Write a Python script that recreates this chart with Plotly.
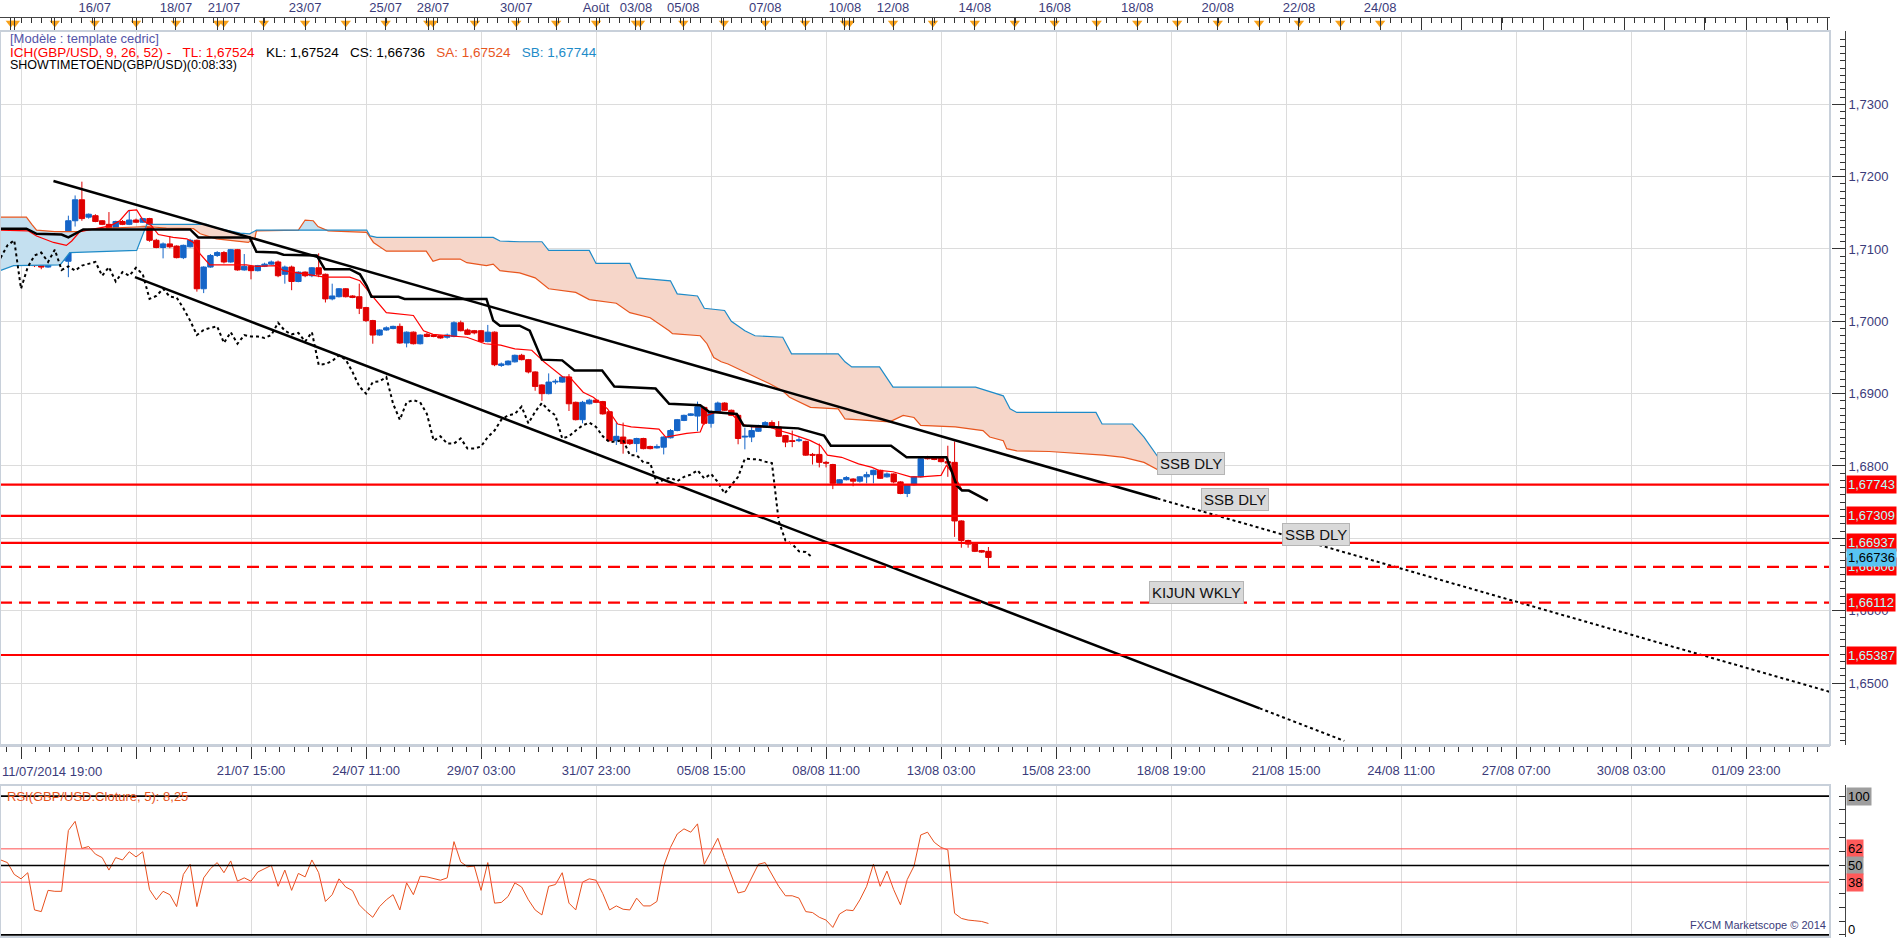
import numpy as np
import plotly.graph_objects as go

FONT = "Liberation Sans"
NAVY = "#3B3B7A"
BLUE_C = "#1565C8"
RED_C = "#E00000"
GRID = "#DCDCDC"

# 4h bars, bar 0 sits on the first vertical gridline
FIRST_BAR = -3

OPEN = [1.7114, 1.7128, 1.7125, 1.7121, 1.7117, 1.7118, 1.7077, 1.7075, 1.7086, 1.7084,
        1.7083, 1.7139, 1.7168, 1.7144, 1.7146, 1.7139, 1.7134, 1.7124, 1.7138, 1.7134,
        1.7140, 1.7137, 1.7142, 1.7112, 1.7102, 1.7107, 1.7104, 1.7088, 1.7103, 1.7112,
        1.7045, 1.7075, 1.7091, 1.7095, 1.7082, 1.7099, 1.7071, 1.7076, 1.7070, 1.7076,
        1.7079, 1.7082, 1.7065, 1.7075, 1.7055, 1.7068, 1.7063, 1.7074, 1.7065, 1.7031,
        1.7034, 1.7045, 1.7035, 1.7034, 1.7019, 1.7001, 1.6981, 1.6988, 1.6990, 1.6993,
        1.6970, 1.6985, 1.6969, 1.6982, 1.6981, 1.6980, 1.6978, 1.6979, 1.6998, 1.6988,
        1.6987, 1.6987, 1.6972, 1.6985, 1.6939, 1.6940, 1.6944, 1.6953, 1.6947, 1.6930,
        1.6912, 1.6900, 1.6916, 1.6916, 1.6923, 1.6888, 1.6864, 1.6886, 1.6891, 1.6889,
        1.6875, 1.6835, 1.6840, 1.6836, 1.6831, 1.6838, 1.6827, 1.6825, 1.6826, 1.6839,
        1.6849, 1.6863, 1.6870, 1.6869, 1.6881, 1.6859, 1.6875, 1.6887, 1.6877, 1.6870,
        1.6840, 1.6840, 1.6848, 1.6856, 1.6860, 1.6854, 1.6842, 1.6835, 1.6835, 1.6834,
        1.6816, 1.6816, 1.6805, 1.6802, 1.6776, 1.6781, 1.6782, 1.6779, 1.6785, 1.6788,
        1.6794, 1.6785, 1.6789, 1.6778, 1.6762, 1.6774, 1.6785, 1.6813, 1.6812, 1.6811,
        1.6806, 1.6805, 1.6724, 1.6697, 1.6692, 1.6683, 1.6682]
HIGH = [1.7130, 1.7129, 1.7128, 1.7123, 1.7123, 1.7128, 1.7087, 1.7087, 1.7087, 1.7087,
        1.7146, 1.7174, 1.7193, 1.7149, 1.7148, 1.7140, 1.7151, 1.7139, 1.7140, 1.7154,
        1.7142, 1.7143, 1.7143, 1.7114, 1.7109, 1.7118, 1.7105, 1.7106, 1.7114, 1.7113,
        1.7076, 1.7093, 1.7097, 1.7097, 1.7100, 1.7100, 1.7093, 1.7077, 1.7078, 1.7081,
        1.7084, 1.7084, 1.7077, 1.7077, 1.7069, 1.7069, 1.7075, 1.7094, 1.7066, 1.7052,
        1.7046, 1.7046, 1.7036, 1.7052, 1.7020, 1.7002, 1.6989, 1.6993, 1.6994, 1.6997,
        1.6986, 1.6986, 1.6982, 1.6984, 1.6982, 1.6981, 1.6983, 1.7000, 1.7001, 1.6990,
        1.6988, 1.6988, 1.6995, 1.6986, 1.6943, 1.6946, 1.6954, 1.6955, 1.6948, 1.6931,
        1.6913, 1.6928, 1.6920, 1.6924, 1.6927, 1.6889, 1.6890, 1.6893, 1.6892, 1.6890,
        1.6876, 1.6860, 1.6860, 1.6837, 1.6839, 1.6839, 1.6828, 1.6830, 1.6841, 1.6851,
        1.6865, 1.6871, 1.6873, 1.6889, 1.6882, 1.6877, 1.6889, 1.6888, 1.6878, 1.6871,
        1.6853, 1.6856, 1.6857, 1.6862, 1.6863, 1.6862, 1.6843, 1.6849, 1.6840, 1.6835,
        1.6818, 1.6831, 1.6807, 1.6803, 1.6782, 1.6786, 1.6783, 1.6786, 1.6792, 1.6795,
        1.6795, 1.6791, 1.6790, 1.6779, 1.6775, 1.6786, 1.6811, 1.6814, 1.6813, 1.6812,
        1.6828, 1.6834, 1.6725, 1.6698, 1.6693, 1.6684, 1.6688]
LOW = [1.7112, 1.7116, 1.7116, 1.7114, 1.7115, 1.7075, 1.7072, 1.7074, 1.7082, 1.7082,
       1.7061, 1.7131, 1.7139, 1.7142, 1.7137, 1.7133, 1.7116, 1.7123, 1.7133, 1.7133,
       1.7136, 1.7136, 1.7110, 1.7101, 1.7087, 1.7101, 1.7087, 1.7086, 1.7102, 1.7041,
       1.7039, 1.7074, 1.7089, 1.7080, 1.7081, 1.7070, 1.7070, 1.7058, 1.7069, 1.7075,
       1.7078, 1.7061, 1.7052, 1.7043, 1.7054, 1.7061, 1.7061, 1.7061, 1.7026, 1.7029,
       1.7033, 1.7033, 1.7032, 1.7010, 1.6999, 1.6969, 1.6980, 1.6987, 1.6989, 1.6969,
       1.6964, 1.6968, 1.6968, 1.6978, 1.6978, 1.6976, 1.6976, 1.6978, 1.6986, 1.6981,
       1.6982, 1.6971, 1.6971, 1.6938, 1.6937, 1.6939, 1.6943, 1.6946, 1.6928, 1.6904,
       1.6890, 1.6899, 1.6913, 1.6915, 1.6876, 1.6863, 1.6859, 1.6885, 1.6887, 1.6871,
       1.6834, 1.6829, 1.6817, 1.6829, 1.6819, 1.6823, 1.6823, 1.6824, 1.6816, 1.6838,
       1.6848, 1.6862, 1.6869, 1.6848, 1.6857, 1.6853, 1.6874, 1.6876, 1.6869, 1.6830,
       1.6823, 1.6833, 1.6847, 1.6855, 1.6852, 1.6840, 1.6826, 1.6826, 1.6833, 1.6814,
       1.6802, 1.6798, 1.6798, 1.6768, 1.6775, 1.6780, 1.6772, 1.6777, 1.6776, 1.6776,
       1.6782, 1.6784, 1.6776, 1.6761, 1.6757, 1.6773, 1.6784, 1.6809, 1.6808, 1.6805,
       1.6785, 1.6702, 1.6687, 1.6687, 1.6681, 1.6680, 1.6659]
CLOSE = [1.7128, 1.7123, 1.7121, 1.7116, 1.7120, 1.7077, 1.7075, 1.7086, 1.7084, 1.7085,
         1.7139, 1.7168, 1.7142, 1.7148, 1.7138, 1.7134, 1.7124, 1.7138, 1.7134, 1.7140,
         1.7137, 1.7142, 1.7112, 1.7102, 1.7107, 1.7103, 1.7088, 1.7105, 1.7112, 1.7045,
         1.7075, 1.7091, 1.7095, 1.7082, 1.7099, 1.7071, 1.7076, 1.7070, 1.7077, 1.7079,
         1.7082, 1.7063, 1.7075, 1.7055, 1.7068, 1.7063, 1.7074, 1.7065, 1.7031, 1.7035,
         1.7045, 1.7034, 1.7033, 1.7018, 1.7001, 1.6981, 1.6988, 1.6991, 1.6993, 1.6970,
         1.6985, 1.6969, 1.6981, 1.6979, 1.6979, 1.6977, 1.6981, 1.6998, 1.6987, 1.6982,
         1.6984, 1.6972, 1.6985, 1.6940, 1.6941, 1.6945, 1.6953, 1.6947, 1.6930, 1.6910,
         1.6900, 1.6916, 1.6917, 1.6923, 1.6886, 1.6864, 1.6888, 1.6891, 1.6888, 1.6872,
         1.6835, 1.6841, 1.6831, 1.6831, 1.6838, 1.6824, 1.6824, 1.6827, 1.6840, 1.6849,
         1.6864, 1.6870, 1.6872, 1.6882, 1.6859, 1.6875, 1.6887, 1.6877, 1.6870, 1.6838,
         1.6841, 1.6849, 1.6856, 1.6860, 1.6854, 1.6841, 1.6833, 1.6834, 1.6836, 1.6815,
         1.6815, 1.6805, 1.6804, 1.6776, 1.6781, 1.6784, 1.6779, 1.6785, 1.6788, 1.6794,
         1.6783, 1.6789, 1.6778, 1.6762, 1.6774, 1.6785, 1.6810, 1.6810, 1.6809, 1.6806,
         1.6804, 1.6724, 1.6697, 1.6692, 1.6682, 1.6681, 1.66736]

RSI = [54.0, 52.1, 43.6, 40.4, 44.8, 18.0, 16.8, 32.1, 31.4, 31.4,
       75.2, 81.8, 62.3, 63.7, 58.2, 55.7, 46.7, 55.7, 54.0, 59.9,
       56.2, 59.9, 32.6, 25.3, 31.4, 29.0, 20.4, 43.6, 50.9, 20.4,
       41.1, 47.7, 52.1, 44.8, 53.3, 38.7, 41.1, 38.7, 45.3, 47.7,
       50.1, 35.0, 46.7, 32.1, 44.3, 41.8, 54.0, 44.8, 24.1, 29.0,
       40.4, 34.5, 31.9, 21.7, 16.8, 12.7, 20.4, 25.3, 29.0, 18.0,
       37.5, 29.0, 42.3, 41.8, 40.4, 39.4, 41.1, 67.2, 52.6, 49.1,
       49.6, 32.1, 52.1, 22.9, 23.4, 27.7, 37.5, 34.5, 25.3, 18.0,
       14.4, 35.0, 36.3, 44.8, 22.9, 18.0, 38.0, 40.4, 39.4, 29.7,
       18.0, 20.9, 18.5, 18.0, 26.5, 20.9, 20.9, 24.1, 49.6, 63.0,
       72.7, 76.4, 74.0, 80.0, 50.9, 60.6, 69.6, 55.7, 42.3, 30.2,
       31.4, 41.1, 50.9, 52.1, 43.6, 35.0, 28.2, 28.2, 26.5, 16.8,
       16.1, 12.7, 10.7, 5.4, 15.1, 18.0, 17.5, 25.3, 35.0, 50.9,
       35.0, 46.0, 32.6, 21.7, 39.9, 49.6, 72.0, 74.0, 66.7, 63.0,
       61.3, 15.6, 11.9, 10.7, 10.2, 9.7, 8.25]

# Ichimoku lines, vertices (bar index, price)
TENKAN_X = [-3.1, 1.1, 2.3, 4.8, 6.7, 7.5, 8.7, 10.2, 13.2, 14.6, 15.9, 17.1, 18.1, 19.3, 20.3,
            22.5, 24.5, 25.5, 26.5, 27.9, 33.3, 34.8, 37.8, 38.8, 40.2, 43.7, 44.9, 48.6, 50.1,
            52.1, 54.0, 58.0, 59.5, 60.9, 65.9, 68.6, 70.9, 73.0, 75.5, 77.3, 80.1, 81.1, 83.1,
            84.6, 86.7, 88.2, 90.2, 94.3, 95.3, 98.4, 100.4, 101.4, 102.9, 105.0, 106.5, 108.0,
            110.6, 112.1, 113.6, 116.7, 118.2, 119.2, 121.3, 123.8, 125.8, 126.8, 128.9, 131.5,
            133.0, 136.0, 136.8, 137.8, 139.1, 140.1, 142.9]
TENKAN_Y = [1.7126, 1.7125, 1.7118, 1.7109, 1.7105, 1.7111, 1.7124, 1.7127, 1.7132, 1.7139,
            1.7153, 1.7154, 1.7139, 1.7132, 1.7120, 1.7116, 1.7114, 1.7109, 1.7093, 1.7078,
            1.7078, 1.7076, 1.7077, 1.7070, 1.7068, 1.7063, 1.7061, 1.7061, 1.7056, 1.7033,
            1.7012, 1.7008, 1.6987, 1.6982, 1.6978, 1.6969, 1.6967, 1.6962, 1.6960, 1.6944,
            1.6923, 1.6923, 1.6902, 1.6895, 1.6879, 1.6858, 1.6854, 1.6851, 1.6840, 1.6845,
            1.6847, 1.6870, 1.6875, 1.6872, 1.6858, 1.6854, 1.6854, 1.6849, 1.6845, 1.6835,
            1.6828, 1.6815, 1.6812, 1.6803, 1.6798, 1.6794, 1.6792, 1.6785, 1.6785, 1.6787,
            1.6801, 1.6789, 1.6767, 1.6766, 1.6752]

KIJUN_X = [-3.1, 0.8, 2.3, 6.0, 7.0, 9.0, 9.2, 25.0, 26.2, 33.8, 34.8, 37.8, 38.8, 43.7, 44.9,
           48.6, 50.1, 51.1, 51.8, 55.8, 56.7, 68.8, 69.8, 70.8, 73.7, 75.2, 77.0, 80.0, 81.8,
           85.9, 87.7, 93.8, 95.8, 100.4, 101.7, 105.8, 106.8, 114.9, 118.7, 119.7, 128.6,
           130.9, 136.8, 137.6, 138.3, 139.1, 140.1, 142.9]
KIJUN_Y = [1.7128, 1.7128, 1.7121, 1.7120, 1.7116, 1.7125, 1.7127, 1.7127, 1.7116, 1.7116,
           1.7096, 1.7095, 1.7092, 1.7091, 1.7072, 1.7072, 1.7065, 1.7049, 1.7034, 1.7034,
           1.7031, 1.7031, 1.7001, 1.6994, 1.6994, 1.6987, 1.6947, 1.6946, 1.6932, 1.6932,
           1.6910, 1.6907, 1.6886, 1.6884, 1.6875, 1.6872, 1.6856, 1.6852, 1.6842, 1.6828,
           1.6828, 1.6812, 1.6812, 1.6792, 1.6773, 1.6766, 1.6766, 1.6752]

SSA_X = [-3.1, 0.8, 1.6, 2.3, 5.0, 8.7, 10.0, 13.2, 18.6, 21.5, 25.5, 26.5, 28.9, 31.4, 33.6,
         34.6, 34.8, 41.0, 42.0, 43.2, 43.9, 45.4, 51.1, 52.1, 54.0, 59.9, 60.9, 61.9, 64.9,
         65.9, 68.8, 69.8, 70.8, 73.7, 76.0, 78.0, 82.0, 84.0, 88.0, 90.0, 93.0, 95.8, 96.3,
         100.4, 101.4, 102.4, 103.5, 104.5, 110.6, 112.6, 113.6, 116.7, 120.8, 121.8, 125.3,
         128.4, 130.4, 132.0, 133.0, 138.1, 142.2, 143.2, 145.2, 145.7, 147.2, 152.0, 160.0,
         163.0, 166.0, 169.0]
SSA_Y = [1.7144, 1.7144, 1.7134, 1.7126, 1.7124, 1.7124, 1.7127, 1.7129, 1.7131, 1.7129,
         1.7128, 1.7121, 1.7114, 1.7111, 1.7109, 1.7116, 1.7125, 1.7126, 1.7140, 1.7139,
         1.7131, 1.7125, 1.7123, 1.7109, 1.7097, 1.7097, 1.7083, 1.7086, 1.7086, 1.7081,
         1.7077, 1.7079, 1.7070, 1.7067, 1.7060, 1.7045, 1.7040, 1.7030, 1.7025, 1.7012,
         1.7005, 1.6987, 1.6983, 1.6980, 1.6969, 1.6950, 1.6944, 1.6941, 1.6914, 1.6904,
         1.6895, 1.6881, 1.6879, 1.6865, 1.6863, 1.6861, 1.6870, 1.6867, 1.6856, 1.6854,
         1.6849, 1.6840, 1.6835, 1.6824, 1.6821, 1.6820, 1.6815, 1.6812, 1.6805, 1.6790]

SSB_X = [-3.1, -1.1, 5.8, 7.2, 17.1, 18.6, 27.4, 28.4, 32.4, 33.8, 34.8, 51.1, 51.6, 52.6,
         69.8, 70.8, 73.7, 77.0, 78.0, 84.0, 85.0, 90.0, 91.0, 96.0, 97.0, 100.0, 101.0,
         104.0, 105.0, 107.0, 108.5, 112.6, 113.9, 120.8, 121.8, 122.8, 126.9, 128.9, 141.1,
         145.2, 146.2, 147.2, 158.9, 159.8, 164.3, 166.0, 169.0]
SSB_Y = [1.7070, 1.7077, 1.7078, 1.7095, 1.7098, 1.7134, 1.7134, 1.7130, 1.7122, 1.7121,
         1.7126, 1.7126, 1.7118, 1.7116, 1.7116, 1.7111, 1.7110, 1.7110, 1.7098, 1.7098,
         1.7080, 1.7080, 1.7060, 1.7056, 1.7038, 1.7035, 1.7018, 1.7015, 1.7000, 1.6987,
         1.6980, 1.6978, 1.6955, 1.6955, 1.6944, 1.6937, 1.6937, 1.6909, 1.6909, 1.6897,
         1.6879, 1.6874, 1.6874, 1.6858, 1.6858, 1.6840, 1.6800]

# drawn trend lines: solid part and dotted extension
UPPER_X = [4.8, 168.0]
UPPER_Y = [1.7194, 1.6755]
UPPER_EXT_X = [168.0, 267.3]
UPPER_EXT_Y = [1.6755, 1.6488]
LOWER_X = [16.85, 183.1]
LOWER_Y = [1.7061, 1.6465]
LOWER_EXT_X = [183.1, 195.6]
LOWER_EXT_Y = [1.6465, 1.6420]

LEVELS = [1.67743, 1.67309, 1.66937, 1.66606, 1.66112, 1.65387]
LEVEL_TEXT = ["1,67743", "1,67309", "1,66937", "1,66606", "1,66112", "1,65387"]
LEVEL_DASH = ["solid", "solid", "solid", "dash", "dash", "solid"]
LAST_PRICE = 1.66736
LAST_TEXT = "1,66736"

PRICE_TICKS = [1.65, 1.66, 1.67, 1.68, 1.69, 1.70, 1.71, 1.72, 1.73]
PRICE_TICK_TEXT = ["1,6500", "1,6600", "1,6700", "1,6800", "1,6900", "1,7000",
                   "1,7100", "1,7200", "1,7300"]

GRID_BARS = [0, 17, 34, 51, 68, 85, 102, 119, 136, 153, 170, 187, 204, 221, 238, 255]
GRID_TEXT = ["", "", "21/07 15:00", "24/07 11:00", "29/07 03:00", "31/07 23:00",
             "05/08 15:00", "08/08 11:00", "13/08 03:00", "15/08 23:00", "18/08 19:00",
             "21/08 15:00", "24/08 11:00", "27/08 07:00", "30/08 03:00", "01/09 23:00"]

DAY_POS = [-1.5, -0.9, 5.0, 10.9, 17.0, 22.9, 29.1, 30.0, 35.9, 42.0, 48.0, 53.9, 60.2, 60.9,
           67.1, 73.2, 79.1, 85.0, 90.9, 91.5, 97.9, 103.9, 110.0, 115.9, 121.8, 122.5, 128.9,
           134.8, 141.0, 146.9, 152.8, 159.0, 165.0, 170.9, 176.9, 183.0, 188.9, 195.0, 200.9,
           207.0, 213.0, 218.9, 225.0, 231.0, 237.0, 243.0, 248.9, 255.0, 261.1, 267.0]
DAY_TEXT = ["", "", "", "16/07", "", "18/07", "", "21/07", "", "23/07", "", "25/07", "", "28/07",
            "", "30/07", "", "Août", "03/08", "", "05/08", "", "07/08", "", "10/08", "", "12/08",
            "", "14/08", "", "16/08", "", "18/08", "", "20/08", "", "22/08", "", "24/08",
            "", "", "", "", "", "", "", "", "", "", ""]
N_MARKED_DAYS = 39

RSI_LEVELS = [100, 62, 50, 38, 0]
RSI_LEVEL_TEXT = ["100", "62", "50", "38", "0"]

# ---------------------------------------------------------------------------
bars = list(range(FIRST_BAR, FIRST_BAR + len(CLOSE)))
X_RANGE = [-3.104, 267.4]
XDOM = 1830 / 1845
PRICE_DOM = [0.20892, 0.98585]
RSI_DOM = [0.0, 0.1654]

fig = go.Figure()

# cloud fill: blue where SA above SB, salmon where SB above SA
grid = np.union1d(SSA_X, SSB_X)
sa = np.interp(grid, SSA_X, SSA_Y)
sb = np.interp(grid, SSB_X, SSB_Y)
top = np.maximum(sa, sb)
for base, col in [(sb, "rgba(196,224,240,1)"), (sa, "rgba(246,214,201,1)")]:
    fig.add_trace(go.Scatter(x=grid, y=base, mode="lines", line=dict(width=0),
                             hoverinfo="skip", showlegend=False))
    fig.add_trace(go.Scatter(x=grid, y=top, mode="lines", line=dict(width=0),
                             fill="tonexty", fillcolor=col, hoverinfo="skip", showlegend=False))

fig.add_trace(go.Scatter(x=SSA_X, y=SSA_Y, mode="lines", line=dict(color="#E8561E", width=1.2),
                         showlegend=False, hoverinfo="skip"))
fig.add_trace(go.Scatter(x=SSB_X, y=SSB_Y, mode="lines", line=dict(color="#1E8BC8", width=1.2),
                         showlegend=False, hoverinfo="skip"))

fig.add_trace(go.Candlestick(
    x=bars, open=OPEN, high=HIGH, low=LOW, close=CLOSE,
    increasing=dict(line=dict(color=BLUE_C, width=1), fillcolor=BLUE_C),
    decreasing=dict(line=dict(color=RED_C, width=1), fillcolor=RED_C),
    whiskerwidth=0, showlegend=False, hoverinfo="skip"))

# chikou span = closes drawn 26 bars back
fig.add_trace(go.Scatter(x=[b - 26 for b in bars], y=CLOSE, mode="lines",
                         line=dict(color="black", width=2, dash="dot"),
                         showlegend=False, hoverinfo="skip"))
fig.add_trace(go.Scatter(x=TENKAN_X, y=TENKAN_Y, mode="lines",
                         line=dict(color="#FF0000", width=1.2), showlegend=False, hoverinfo="skip"))
fig.add_trace(go.Scatter(x=KIJUN_X, y=KIJUN_Y, mode="lines",
                         line=dict(color="black", width=2.5), showlegend=False, hoverinfo="skip"))

for xs, ys, dash, w in [(UPPER_X, UPPER_Y, "solid", 2.5), (UPPER_EXT_X, UPPER_EXT_Y, "dot", 2),
                        (LOWER_X, LOWER_Y, "solid", 2.5), (LOWER_EXT_X, LOWER_EXT_Y, "dot", 2)]:
    fig.add_trace(go.Scatter(x=xs, y=ys, mode="lines", line=dict(color="black", width=w, dash=dash),
                             showlegend=False, hoverinfo="skip"))

# RSI
fig.add_trace(go.Scatter(x=bars, y=RSI, mode="lines", xaxis="x2", yaxis="y2",
                         line=dict(color="#E8501E", width=1), showlegend=False, hoverinfo="skip"))

# day markers on the top time scale
fig.add_trace(go.Scatter(x=DAY_POS[:N_MARKED_DAYS], y=[0.62] * N_MARKED_DAYS, xaxis="x3", yaxis="y3",
                         mode="markers", cliponaxis=False,
                         marker=dict(symbol="triangle-down", size=9, color="#F7A11A", line=dict(width=0)),
                         showlegend=False, hoverinfo="skip"))

shapes = []
for lvl, dash in zip(LEVELS, LEVEL_DASH):
    shapes.append(dict(type="line", xref="paper", yref="y", x0=0, x1=XDOM, y0=lvl, y1=lvl,
                       line=dict(color="#FF0000", width=2.2, dash="12px,7px" if dash == "dash" else "solid")))
for lvl in RSI_LEVELS:
    red = lvl in (62, 38)
    shapes.append(dict(type="line", xref="paper", yref="y2", x0=0, x1=XDOM, y0=lvl, y1=lvl,
                       line=dict(color="#FF5050" if red else "black", width=1 if red else 1.6)))
for dom in (PRICE_DOM, RSI_DOM):
    shapes.append(dict(type="rect", xref="paper", yref="paper", x0=0, x1=XDOM, y0=dom[0], y1=dom[1],
                       line=dict(color="#C8D0DA", width=2), layer="above"))

ann = []
ann.append(dict(xref="paper", yref="paper", x=8 / 1845, y=0.9772, xanchor="left", yanchor="middle",
                showarrow=False, text="[Modèle : template cedric]",
                font=dict(family=FONT, size=13, color="#5454A8")))
ann.append(dict(xref="paper", yref="paper", x=8 / 1845, y=0.9630, xanchor="left", yanchor="middle",
                showarrow=False,
                text=("<span style='color:#FF0000'>ICH(GBP/USD, 9, 26, 52) -&nbsp;&nbsp;&nbsp;TL: 1,67524</span>"
                      "&nbsp;&nbsp;&nbsp;<span style='color:#000000'>KL: 1,67524&nbsp;&nbsp;&nbsp;CS: 1,66736</span>"
                      "&nbsp;&nbsp;&nbsp;<span style='color:#E8561E'>SA: 1,67524</span>"
                      "&nbsp;&nbsp;&nbsp;<span style='color:#1E8BC8'>SB: 1,67744</span>"),
                font=dict(family=FONT, size=13.5, color="black")))
ann.append(dict(xref="paper", yref="paper", x=8 / 1845, y=0.9489, xanchor="left", yanchor="middle",
                showarrow=False, text="SHOWTIMETOEND(GBP/USD)(0:08:33)",
                font=dict(family=FONT, size=12.5, color="black")))

for lvl, txt in zip(LEVELS, LEVEL_TEXT):
    ann.append(dict(xref="paper", yref="y", x=1 + 1 / 1845, y=lvl, xanchor="left", yanchor="middle",
                    showarrow=False, text=txt, bgcolor="#FF0000", borderpad=1,
                    font=dict(family=FONT, size=13, color="#B4FFFF")))
ann.append(dict(xref="paper", yref="y", x=1 + 1 / 1845, y=LAST_PRICE, xanchor="left", yanchor="middle",
                showarrow=False, text=LAST_TEXT, bgcolor="#58C4F2", borderpad=1,
                font=dict(family=FONT, size=13, color="black")))

for lvl, txt in zip(RSI_LEVELS, RSI_LEVEL_TEXT):
    bg = "#FF5A5A" if lvl in (62, 38) else ("#9E9E9E" if lvl != 0 else "rgba(0,0,0,0)")
    ann.append(dict(xref="paper", yref="y2", x=1 + 1 / 1845, y=lvl, xanchor="left", yanchor="middle",
                    yshift=5 if lvl == 0 else 0,
                    showarrow=False, text=txt, bgcolor=bg, borderpad=1,
                    font=dict(family=FONT, size=13, color="black")))
ann.append(dict(xref="paper", yref="y2", x=5 / 1845, y=100, xanchor="left", yanchor="middle",
                showarrow=False, text="RSI(GBP/USD.Cloture, 5): 8,25",
                font=dict(family=FONT, size=13, color="#E8561E")))
ann.append(dict(xref="paper", yref="paper", x=1828 / 1845, y=0.004, xanchor="right", yanchor="bottom",
                showarrow=False, text="FXCM Marketscope © 2014",
                font=dict(family=FONT, size=11, color=NAVY)))
ann.append(dict(xref="paper", yref="paper", x=0, y=0.1806, xanchor="left", yanchor="middle",
                showarrow=False, text="11/07/2014 19:00",
                font=dict(family=FONT, size=13, color=NAVY)))

for txt, kx, py in [("SSB DLY", 173.0, 1.68028), ("SSB DLY", 179.5, 1.67530),
                    ("SSB DLY", 191.4, 1.67046), ("KIJUN WKLY", 173.7, 1.66245)]:
    ann.append(dict(xref="x", yref="y", x=kx, y=py, showarrow=False, text=txt,
                    bgcolor="#D9D9D9", bordercolor="#B5B5B5", borderwidth=1, borderpad=2,
                    font=dict(family=FONT, size=15, color="#111111")))

fig.update_layout(
    width=1903, height=940,
    margin=dict(l=0, r=58, t=18, b=3),
    paper_bgcolor="white", plot_bgcolor="white",
    font=dict(family=FONT, size=12, color=NAVY),
    showlegend=False,
    boxgap=0.2, boxgroupgap=0,
    shapes=shapes, annotations=ann,
    xaxis=dict(domain=[0, XDOM], anchor="y", range=X_RANGE, rangeslider=dict(visible=False),
               tickmode="array", tickvals=GRID_BARS, ticktext=GRID_TEXT,
               ticks="outside", ticklen=12, tickcolor="#333333",
               minor=dict(dtick=2.125, tick0=0, ticks="outside", ticklen=5, tickcolor="#333333"),
               showgrid=True, gridcolor=GRID, zeroline=False,
               showline=True, linecolor="#C8CDD8", linewidth=2,
               tickfont=dict(family=FONT, size=13, color=NAVY)),
    yaxis=dict(domain=PRICE_DOM, range=[1.64143, 1.74013], anchor="free", position=1.0, side="right",
               tickmode="array", tickvals=PRICE_TICKS, ticktext=PRICE_TICK_TEXT,
               ticks="inside", ticklen=13, tickcolor="#333333",
               minor=dict(dtick=0.001, tick0=1.64, ticks="inside", ticklen=5, tickcolor="#333333"),
               showgrid=True, gridcolor=GRID, zeroline=False,
               showline=True, linecolor="#444444", linewidth=1,
               tickfont=dict(family=FONT, size=13, color=NAVY)),
    xaxis2=dict(domain=[0, XDOM], anchor="y2", range=X_RANGE,
                tickmode="array", tickvals=GRID_BARS, showticklabels=False, ticks="",
                showgrid=True, gridcolor=GRID, zeroline=False, showline=False),
    yaxis2=dict(domain=RSI_DOM, range=[-1.5, 108], anchor="free", position=1.0, side="right",
                tickmode="linear", tick0=0, dtick=10, ticks="inside", ticklen=6, tickcolor="#333333",
                showticklabels=False, showgrid=False, zeroline=False,
                showline=True, linecolor="#444444", linewidth=1),
    xaxis3=dict(domain=[0, XDOM], anchor="y3", side="top", range=X_RANGE,
                tickmode="array", tickvals=DAY_POS, ticktext=DAY_TEXT,
                ticks="inside", ticklen=12, tickcolor="#333333",
                minor=dict(dtick=1.5, tick0=-1.5, ticks="inside", ticklen=5, tickcolor="#333333"),
                showgrid=False, zeroline=False, showline=True, linecolor="#444444", linewidth=1,
                tickfont=dict(family=FONT, size=13, color=NAVY)),
    yaxis3=dict(domain=[0.98585, 1.0], range=[0, 1], visible=False),
)

# the page's default body margin would push the chart 8px off the window
fig.write_html("out.html", config={"displayModeBar": False},
               post_script="document.body.style.margin='0';document.body.style.overflow='hidden';")
